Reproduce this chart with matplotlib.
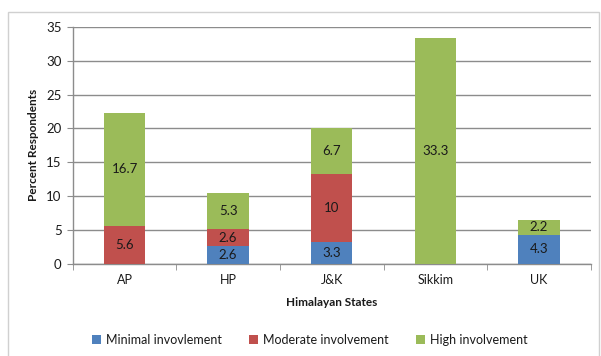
import matplotlib
matplotlib.use("Agg")
import matplotlib.pyplot as plt
from matplotlib.patches import Rectangle
import numpy as np

plt.rcParams['font.family'] = ['Lato', 'DejaVu Sans']

states = ["AP", "HP", "J&K", "Sikkim", "UK"]
minimal = [0, 2.6, 3.3, 0, 4.3]
moderate = [5.6, 2.6, 10, 0, 0]
high = [16.7, 5.3, 6.7, 33.3, 2.2]
series_names = ["Minimal invovlement", "Moderate involvement", "High involvement"]
colors = ["#4F81BD", "#C0504D", "#9BBB59"]
y_ticks = [0, 5, 10, 15, 20, 25, 30, 35]

fig = plt.figure(figsize=(6.01, 3.56), dpi=100)
fig.patch.set_facecolor("white")

# chart frame
fig.add_artist(Rectangle((7.5 / 601, -0.02), (598.5 - 7.5) / 601, (356 - 12) / 356 + 0.02,
                         transform=fig.transFigure, fill=False,
                         edgecolor="#d0d0d0", lw=1.0))

ax = fig.add_axes([72.7 / 601, (356 - 264) / 356, (590.7 - 72.7) / 601, (264 - 26.7) / 356])

x = np.arange(len(states))
width = 0.4
bottom = np.zeros(len(states))
for vals, name, col in zip([minimal, moderate, high], series_names, colors):
    vals = np.array(vals, dtype=float)
    ax.bar(x, vals, width, bottom=bottom, color=col, label=name, zorder=3)
    for xi, v, b in zip(x, vals, bottom):
        if v > 0:
            ax.text(xi, b + v / 2, f"{v:g}", ha="center", va="center",
                    fontsize=9.5, color="#1a1a1a", zorder=4)
    bottom += vals

ax.set_xlim(-0.5, len(states) - 0.5)
ax.set_ylim(0, 35)
ax.set_yticks(y_ticks)
ax.yaxis.grid(True, color="#8c8c8c", lw=1.0, zorder=0)
ax.set_axisbelow(True)

ax.set_xticks(x)
ax.set_xticklabels(states)
ax.set_xticks(np.arange(-0.5, len(states)), minor=True)
ax.tick_params(axis="x", which="major", length=0, labelsize=9, pad=7, colors="#1a1a1a")
ax.tick_params(axis="x", which="minor", length=4, color="#8c8c8c", direction="out")
ax.tick_params(axis="y", length=4, color="#8c8c8c", labelsize=9.5, pad=4, labelcolor="#1a1a1a")

for s in ["top", "right"]:
    ax.spines[s].set_visible(False)
for s in ["left", "bottom"]:
    ax.spines[s].set_color("#8c8c8c")
    ax.spines[s].set_linewidth(1.0)

ax.set_ylabel("Percent Respondents", fontsize=8.5, fontweight="bold", labelpad=5, color="#1a1a1a")
ax.set_xlabel("Himalayan States", fontsize=8.5, fontweight="bold", labelpad=8, color="#1a1a1a")

leg = fig.legend(loc="center", bbox_to_anchor=(310 / 601, (356 - 340) / 356), ncol=3,
                 frameon=False, fontsize=9, handlelength=0.7, handleheight=0.7,
                 handletextpad=0.4, columnspacing=2.2)
for t in leg.get_texts():
    t.set_color("#1a1a1a")

fig.savefig("out.png", dpi=100)
